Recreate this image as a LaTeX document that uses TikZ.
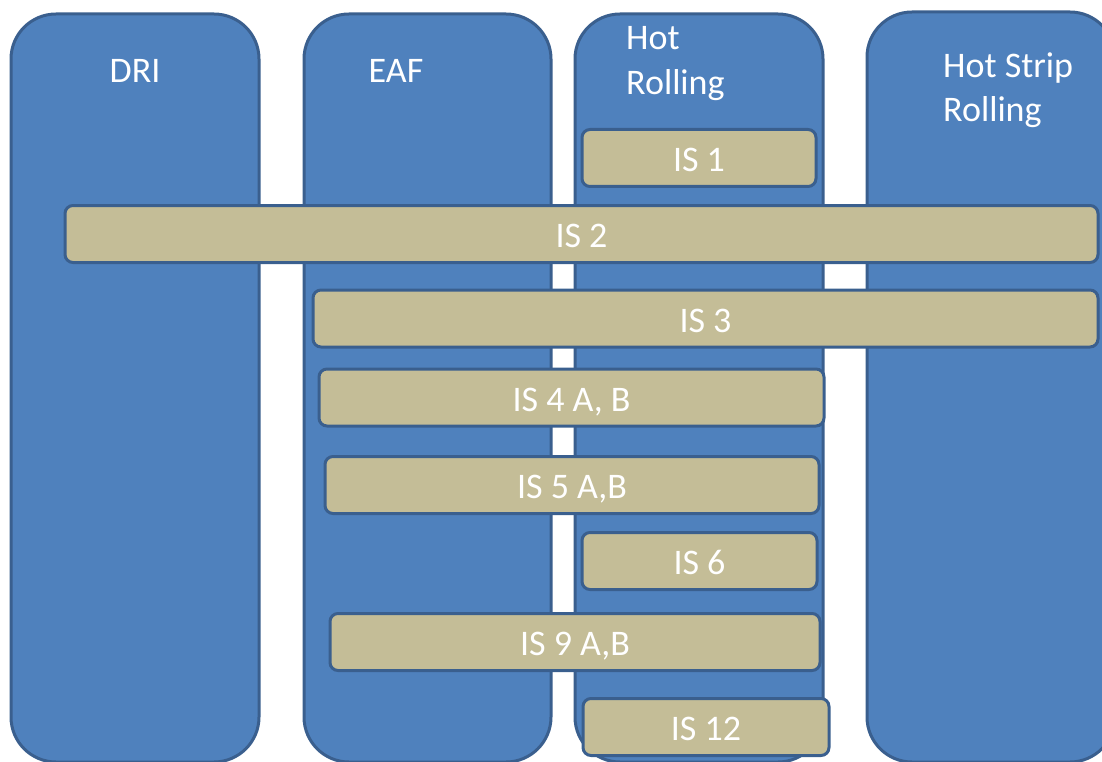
\documentclass[tikz,border=0pt]{standalone}
\usepackage{fontspec}
\setmainfont{Carlito}
\usepackage{xcolor}
\definecolor{stageblue}{HTML}{4F81BD}
\definecolor{stageline}{HTML}{3A5F8E}
\definecolor{bartan}{HTML}{C4BD97}

\tikzset{
  stage/.style={draw=stageline, line width=3pt, fill=stageblue,
    rounded corners=45pt, inner sep=0pt},
  isbar/.style={draw=stageline, line width=3pt, fill=bartan,
    rounded corners=8pt, inner sep=0pt, minimum height=57pt,
    text height=27pt, text depth=0pt,
    text=white, font=\fontsize{36}{40}\selectfont},
  head/.style={text=white, inner sep=0pt, font=\fontsize{36}{40}\selectfont}
}

\begin{document}
\begin{tikzpicture}[x=1pt, y=-1pt]
    \useasboundingbox (0,0) rectangle (1102,762);
    % process stages
    \node[stage, minimum width=248pt, minimum height=748pt] (DRI) at (135,388) {};
    \node[stage, minimum width=247pt, minimum height=748pt] (EAF) at (427.5,388) {};
    \node[stage, minimum width=248pt, minimum height=748pt] (HR) at (699,388) {};
    \node[stage, minimum width=248pt, minimum height=750pt] (HSR) at (991,387) {};
    % stage titles
    \node[head] (tDRI) at (135,71) {DRI};
    \node[head] (tEAF) at (396,71) {EAF};
    \node[head, anchor=base west] (tHR1) at (626,50) {Hot};
    \node[head, anchor=base west] (tHR2) at (626,95) {Rolling};
    \node[head, anchor=base west] (tHSR1) at (943,78) {Hot Strip};
    \node[head, anchor=base west] (tHSR2) at (943,122) {Rolling};
    % industrial symbioses
    \node[isbar, minimum width=234pt] (IS1) at (699,158) {IS 1};
    \node[isbar, minimum width=1033pt] (IS2) at (581.5,234) {IS 2};
    \node[isbar, minimum width=785pt] (IS3) at (705.5,318.5) {IS 3};
    \node[isbar, minimum width=505pt] (IS4) at (571.5,397.5) {IS 4 A, B};
    \node[isbar, minimum width=494pt] (IS5) at (572,485) {IS 5 A,B};
    \node[isbar, minimum width=235pt] (IS6) at (699.5,561) {IS 6};
    \node[isbar, minimum width=490pt] (IS9) at (575,642) {IS 9 A,B};
    \node[isbar, minimum width=246pt] (IS12) at (706,727) {IS 12};
  \end{tikzpicture}
\end{document}
